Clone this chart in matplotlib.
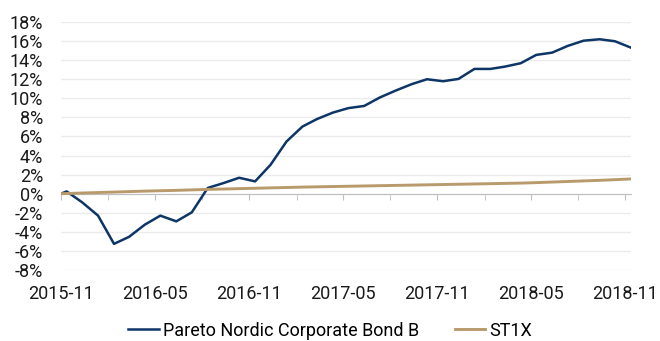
import datetime as dt
import pandas as pd
import matplotlib
matplotlib.use("Agg")
import matplotlib.pyplot as plt
import matplotlib.dates as mdates
from matplotlib.ticker import FuncFormatter

plt.rcParams['font.family'] = ['Roboto', 'DejaVu Sans']

# monthly observations, starting from inception
dates = [pd.Timestamp("2015-11-01")] + list(
    pd.date_range("2015-11-12", periods=37, freq=pd.DateOffset(months=1)))

pareto = [0.00, 0.24, -0.90, -2.30, -5.26, -4.53, -3.24, -2.30, -2.90, -1.96,
          0.60, 1.12, 1.67, 1.29, 3.03, 5.47, 7.04, 7.82, 8.50, 8.97,
          9.20, 10.08, 10.81, 11.48, 12.00, 11.79, 12.03, 13.08, 13.08, 13.32,
          13.68, 14.55, 14.79, 15.49, 16.04, 16.19, 15.98, 15.31]

st1x = [0.00, 0.02, 0.07, 0.12, 0.17, 0.22, 0.27, 0.31, 0.35, 0.40,
        0.45, 0.49, 0.53, 0.57, 0.61, 0.65, 0.69, 0.72, 0.75, 0.78,
        0.81, 0.84, 0.87, 0.90, 0.93, 0.96, 0.99, 1.02, 1.05, 1.08,
        1.11, 1.16, 1.22, 1.28, 1.34, 1.40, 1.47, 1.55]

series_names = ["Pareto Nordic Corporate Bond B", "ST1X"]
yticks = list(range(-8, 20, 2))

navy = "#0d3566"
tan = "#b99a6c"

fig = plt.figure(figsize=(6.6, 3.41), dpi=100)
ax = fig.add_axes([0.0924, 0.2082, 0.8636, 0.7273])

ax.plot(dates, pareto, color=navy, lw=1.8, label=series_names[0], zorder=3)
ax.plot(dates, st1x, color=tan, lw=2.1, label=series_names[1], zorder=3)

ax.set_ylim(-8, 18)
ax.set_xlim(dt.datetime(2015, 11, 1), dt.datetime(2018, 11, 12))
ax.set_yticks(yticks)
ax.yaxis.set_major_formatter(FuncFormatter(lambda v, p: f"{v:.0f}%"))
ax.grid(axis='y', color='#ebebeb', lw=1.0, zorder=0)
ax.set_axisbelow(True)

for side in ['top', 'right', 'left']:
    ax.spines[side].set_visible(False)
ax.spines['bottom'].set_position(('data', 0))
ax.spines['bottom'].set_color('#bfbfbf')
ax.spines['bottom'].set_zorder(1)

ax.xaxis.set_major_locator(mdates.MonthLocator(bymonth=[5, 11]))
ax.xaxis.set_minor_locator(mdates.MonthLocator(bymonth=[2, 8]))
ax.xaxis.set_major_formatter(mdates.DateFormatter("%Y-%m"))
ax.tick_params(axis='x', which='both', length=4, color='#bfbfbf',
               labelsize=13, pad=62, labelcolor='#1a1a1a')
ax.tick_params(axis='y', length=0, labelsize=13, pad=13, labelcolor='#1a1a1a')
for lbl in ax.get_yticklabels():
    lbl.set_clip_on(False)

fig.legend(loc='center', bbox_to_anchor=(0.5, 0.03), ncol=2,
           frameon=False, fontsize=13, handlelength=1.7, handletextpad=0.2,
           columnspacing=2.0, borderaxespad=0, borderpad=0)

fig.savefig("out.png", dpi=100)
